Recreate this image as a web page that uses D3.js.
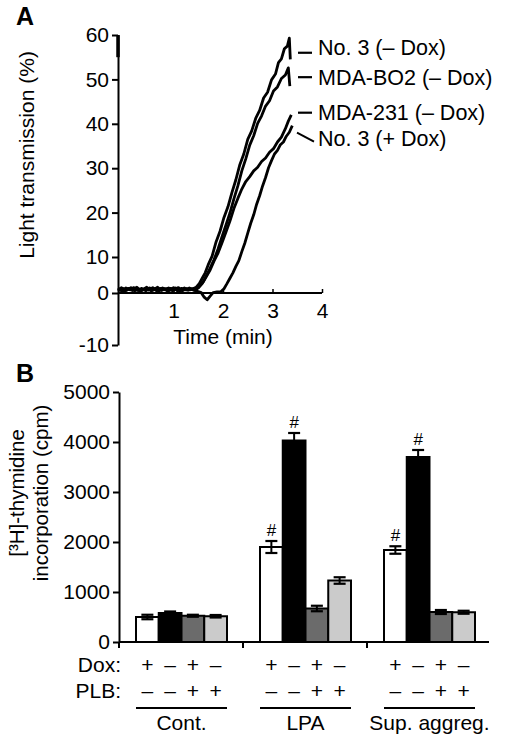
<!DOCTYPE html>
<html><head><meta charset="utf-8">
<script src="https://cdn.jsdelivr.net/npm/d3@7/dist/d3.min.js"></script>
<style>
html,body{margin:0;padding:0;background:#fff;}
svg text{font-family:"Liberation Sans",Arial,Helvetica,sans-serif;fill:#000;}
</style></head>
<body><svg id="chart" width="510" height="740"></svg>
<script>
// ---------- Panel A data (time in min, light transmission in %) ----------
const no3Minus = [[-0.12,0.9],[-0.05,1.5],[0.02,0.5],[0.1,1.3],[0.18,0.7],[0.26,1.6],[0.34,0.6],[0.42,1.2],[0.5,0.8],[0.58,1.5],[0.66,0.6],[0.74,1.3],[0.82,0.9],[0.9,1.4],[0.98,0.6],[1.06,1.2],[1.14,0.7],[1.22,1.4],[1.3,0.8],[1.38,1.1],[1.46,1.6],[1.52,2.6],[1.58,4.1],[1.64,5.6],[1.7,7.8],[1.78,10.2],[1.86,13.4],[1.94,15.8],[2.02,18.9],[2.1,21.3],[2.18,24.5],[2.26,27.4],[2.34,30.8],[2.42,33.2],[2.5,36.5],[2.58,38.4],[2.66,41.2],[2.74,43.0],[2.82,45.8],[2.9,47.1],[2.98,49.9],[3.06,51.2],[3.12,53.8],[3.18,54.6],[3.24,56.9],[3.3,57.5],[3.34,59.3],[3.36,54.5]];
const mdaBO2Minus = [[-0.12,1.2],[-0.04,0.6],[0.04,1.4],[0.12,0.9],[0.2,1.5],[0.28,0.7],[0.36,1.3],[0.44,0.6],[0.52,1.4],[0.6,0.9],[0.68,1.6],[0.76,0.7],[0.84,1.2],[0.92,0.8],[1.0,1.5],[1.08,0.6],[1.16,1.3],[1.24,0.9],[1.32,1.4],[1.4,0.8],[1.48,1.2],[1.54,2.2],[1.6,3.1],[1.66,4.6],[1.74,6.9],[1.82,9.3],[1.9,11.8],[1.98,14.6],[2.06,17.2],[2.14,19.9],[2.22,23.1],[2.3,26.0],[2.38,29.4],[2.46,32.1],[2.54,35.2],[2.62,37.3],[2.7,40.1],[2.78,41.8],[2.86,44.0],[2.94,45.2],[3.02,47.4],[3.1,48.3],[3.18,50.2],[3.26,51.0],[3.32,52.6],[3.35,48.5]];
const mda231Minus = [[-0.12,0.7],[-0.03,1.3],[0.06,0.8],[0.14,1.5],[0.22,0.6],[0.3,1.1],[0.38,0.9],[0.46,1.6],[0.54,0.7],[0.62,1.2],[0.7,0.6],[0.78,1.4],[0.86,0.8],[0.94,1.3],[1.02,0.9],[1.1,1.5],[1.18,0.6],[1.26,1.2],[1.34,0.9],[1.42,1.3],[1.5,1.4],[1.58,2.6],[1.66,4.5],[1.74,6.4],[1.82,8.9],[1.9,10.9],[1.98,13.2],[2.06,15.6],[2.14,18.1],[2.22,20.9],[2.3,23.2],[2.38,25.3],[2.46,27.0],[2.54,28.1],[2.62,29.4],[2.7,30.2],[2.78,31.5],[2.86,32.3],[2.94,33.6],[3.02,34.4],[3.1,35.9],[3.18,37.0],[3.26,38.9],[3.32,40.6],[3.38,42.0]];
const no3Plus = [[-0.12,1.0],[-0.02,0.5],[0.08,1.2],[0.16,0.8],[0.24,1.4],[0.32,0.5],[0.4,1.0],[0.48,1.3],[0.56,0.6],[0.64,1.1],[0.72,0.7],[0.8,1.3],[0.88,0.5],[0.96,1.0],[1.04,1.4],[1.12,0.6],[1.2,1.1],[1.28,0.8],[1.36,1.2],[1.44,0.6],[1.5,0.4],[1.56,0.1],[1.62,-0.8],[1.68,-1.3],[1.74,-0.6],[1.8,0.1],[1.88,0.3],[1.96,0.4],[2.02,1.2],[2.08,2.6],[2.14,4.1],[2.2,5.6],[2.26,7.4],[2.32,9.0],[2.38,11.2],[2.44,13.1],[2.5,15.4],[2.56,17.6],[2.62,19.5],[2.68,21.9],[2.74,23.8],[2.8,26.0],[2.86,27.9],[2.92,30.1],[2.98,31.7],[3.04,33.2],[3.1,34.0],[3.16,35.3],[3.22,35.9],[3.28,37.2],[3.34,38.1],[3.4,39.6]];
const traceLabels = ["No. 3 (\u2013 Dox)", "MDA-BO2 (\u2013 Dox)", "MDA-231 (\u2013 Dox)", "No. 3 (+ Dox)"];
const traceLabelValues = [56, 50.5, 42.5, 38];   // value where each label's leader line points
const yTicksA = [-10, 0, 10, 20, 30, 40, 50, 60];
const xTicksA = [1, 2, 3, 4];

// ---------- Panel B data ([3H]-thymidine incorporation, cpm) ----------
const groups = ["Cont.", "LPA", "Sup. aggreg."];
const doxSigns = ["+", "\u2013", "+", "\u2013"];
const plbSigns = ["\u2013", "\u2013", "+", "+"];
const contMeans = [500, 580, 525, 515];
const contErrs  = [45, 30, 20, 25];
const lpaMeans  = [1900, 4030, 670, 1230];
const lpaErrs   = [120, 150, 55, 65];
const supMeans  = [1840, 3700, 600, 595];
const supErrs   = [75, 140, 40, 30];
const contSig = [false, false, false, false];
const lpaSig  = [true, true, false, false];
const supSig  = [true, true, false, false];
const yTicksB = [0, 1000, 2000, 3000, 4000, 5000];
const barFills = ["#ffffff", "#000000", "#6b6b6b", "#cbcbcb"];

const FONT = "Liberation Sans, Arial, sans-serif";
const fmtHyphen = d => String(d);   // plain hyphen-minus as in the original ("-10")

const svg = d3.select("#chart");
svg.append("rect").attr("width", 510).attr("height", 740).attr("fill", "#fff");

// ================= Panel A =================
const xA = d3.scaleLinear().domain([0, 4]).range([124, 322]);
const yA = d3.scaleLinear().domain([-10, 0, 10, 60]).range([345, 293, 257, 35]);
const axisXA = 118;

svg.append("text").attr("x", 16).attr("y", 25).attr("font-size", 25).attr("font-weight", "bold").text("A");

const gYA = svg.append("g").attr("transform", `translate(${axisXA},0)`)
  .call(d3.axisLeft(yA).tickValues(yTicksA).tickSize(6).tickSizeOuter(0).tickPadding(3).tickFormat(fmtHyphen));
gYA.selectAll("path,line").attr("stroke", "#000").attr("stroke-width", 2);
gYA.selectAll("text").attr("font-size", 21).attr("font-family", FONT);
svg.append("line").attr("x1", axisXA).attr("x2", axisXA).attr("y1", yA(60)).attr("y2", yA(55))
  .attr("stroke", "#000").attr("stroke-width", 3.5);

const gXA = svg.append("g").attr("transform", `translate(0,${yA(0)})`)
  .call(d3.axisBottom(xA).tickValues(xTicksA).tickSize(-4).tickSizeOuter(0).tickPadding(10).tickFormat(fmtHyphen));
gXA.select(".domain").remove();
gXA.selectAll("line").attr("stroke", "#000").attr("stroke-width", 1.5);
gXA.selectAll("text").attr("font-size", 21).attr("font-family", FONT);
svg.append("line").attr("x1", axisXA).attr("x2", xA(4)).attr("y1", yA(0)).attr("y2", yA(0))
  .attr("stroke", "#000").attr("stroke-width", 2);

svg.append("text").attr("x", 223).attr("y", 344).attr("text-anchor", "middle").attr("font-size", 21).text("Time (min)");
svg.append("text").attr("transform", "translate(34,155) rotate(-90)").attr("text-anchor", "middle")
  .attr("font-size", 21).text("Light transmission (%)");

const lineA = d3.line().x(d => xA(d[0])).y(d => yA(d[1]));
[no3Minus, mdaBO2Minus, mda231Minus, no3Plus].forEach(tr => {
  svg.append("path").attr("d", lineA(tr)).attr("fill", "none").attr("stroke", "#000")
    .attr("stroke-width", 2.8).attr("stroke-linejoin", "round");
});

const labelY = [55, 85, 120, 146];
traceLabels.forEach((lab, i) => {
  const ly = yA(traceLabelValues[i]);
  if (i < 3) {
    svg.append("line").attr("x1", 298).attr("x2", 312).attr("y1", ly).attr("y2", ly)
      .attr("stroke", "#000").attr("stroke-width", 2.2);
  } else {
    svg.append("line").attr("x1", 297).attr("x2", 314).attr("y1", ly).attr("y2", ly + 9)
      .attr("stroke", "#000").attr("stroke-width", 2);
  }
  svg.append("text").attr("x", 318).attr("y", labelY[i]).attr("font-size", 21.5).text(lab);
});

// ================= Panel B =================
svg.append("text").attr("x", 16).attr("y", 382).attr("font-size", 25).attr("font-weight", "bold").text("B");

const yB = d3.scaleLinear().domain([0, 5000]).range([642, 392]);
const xG = d3.scaleBand().domain(groups).range([119, 491]).padding(0);
const xBar = d3.scaleBand().domain([0, 1, 2, 3]).range([17, 108]).padding(0);
const axisXB = 119;

const gYB = svg.append("g").attr("transform", `translate(${axisXB},0)`)
  .call(d3.axisLeft(yB).tickValues(yTicksB).tickSize(6).tickSizeOuter(0).tickPadding(3).tickFormat(fmtHyphen));
gYB.selectAll("path,line").attr("stroke", "#000").attr("stroke-width", 2);
gYB.selectAll("text").attr("font-size", 21).attr("font-family", FONT);

svg.append("line").attr("x1", axisXB).attr("x2", 489).attr("y1", yB(0)).attr("y2", yB(0))
  .attr("stroke", "#000").attr("stroke-width", 2.2);
groups.forEach(g => {
  svg.append("line").attr("x1", xG(g)).attr("x2", xG(g)).attr("y1", yB(0)).attr("y2", yB(0) + 6)
    .attr("stroke", "#000").attr("stroke-width", 2);
});

svg.append("text").attr("transform", "translate(24,493) rotate(-90)").attr("text-anchor", "middle")
  .attr("font-size", 20.5).text("[\u00B3H]-thymidine");
svg.append("text").attr("transform", "translate(48,493) rotate(-90)").attr("text-anchor", "middle")
  .attr("font-size", 20.5).text("incorporation (cpm)");

const groupData = [
  { name: groups[0], means: contMeans, errs: contErrs, sig: contSig },
  { name: groups[1], means: lpaMeans, errs: lpaErrs, sig: lpaSig },
  { name: groups[2], means: supMeans, errs: supErrs, sig: supSig }
];

groupData.forEach(gd => {
  const g0 = xG(gd.name);
  gd.means.forEach((m, i) => {
    const bx = g0 + xBar(i), bw = xBar.bandwidth();
    svg.append("rect").attr("x", bx).attr("y", yB(m)).attr("width", bw).attr("height", yB(0) - yB(m))
      .attr("fill", barFills[i]).attr("stroke", "#000").attr("stroke-width", 2);
    const cx = bx + bw / 2, e = gd.errs[i];
    svg.append("line").attr("x1", cx).attr("x2", cx).attr("y1", yB(m + e)).attr("y2", yB(m - e))
      .attr("stroke", "#000").attr("stroke-width", 2);
    [m + e, m - e].forEach(v => svg.append("line").attr("x1", cx - 6).attr("x2", cx + 6)
      .attr("y1", yB(v)).attr("y2", yB(v)).attr("stroke", "#000").attr("stroke-width", 2.2));
    if (gd.sig[i]) {
      svg.append("text").attr("x", cx).attr("y", yB(m + e) - 5).attr("text-anchor", "middle")
        .attr("font-size", 17).text("#");
    }
    svg.append("text").attr("x", cx).attr("y", 672).attr("text-anchor", "middle").attr("font-size", 21).text(doxSigns[i]);
    svg.append("text").attr("x", cx).attr("y", 698).attr("text-anchor", "middle").attr("font-size", 21).text(plbSigns[i]);
  });
  svg.append("line").attr("x1", g0 + xBar(0)).attr("x2", g0 + xBar(3) + xBar.bandwidth())
    .attr("y1", 708).attr("y2", 708).attr("stroke", "#000").attr("stroke-width", 2);
  svg.append("text").attr("x", g0 + (xBar(0) + xBar(3) + xBar.bandwidth()) / 2).attr("y", 730)
    .attr("text-anchor", "middle").attr("font-size", 21).text(gd.name);
});

svg.append("text").attr("x", 121).attr("y", 672).attr("text-anchor", "end").attr("font-size", 21).text("Dox:");
svg.append("text").attr("x", 121).attr("y", 698).attr("text-anchor", "end").attr("font-size", 21).text("PLB:");
</script>
</body></html>
